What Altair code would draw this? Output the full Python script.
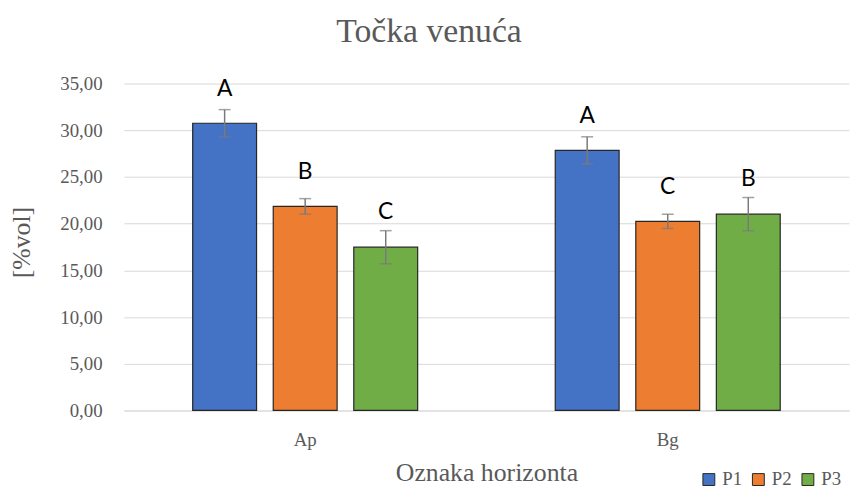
import altair as alt
import pandas as pd

horizons = ["Ap", "Bg"]
series = ["P1", "P2", "P3"]
ap_values = [30.75, 21.85, 17.48]
bg_values = [27.85, 20.25, 21.02]
ap_errors = [1.46, 0.83, 1.77]
bg_errors = [1.45, 0.76, 1.78]
ap_letters = ["A", "B", "C"]
bg_letters = ["A", "C", "B"]
colors = ["#4472C4", "#ED7D31", "#70AD47"]
y_ticks = [0, 5, 10, 15, 20, 25, 30, 35]
chart_title = "Točka venuća"

rows = []
for h, vals, errs, lets in [("Ap", ap_values, ap_errors, ap_letters),
                            ("Bg", bg_values, bg_errors, bg_letters)]:
    for s, v, e, l in zip(series, vals, errs, lets):
        rows.append(dict(horizon=h, series=s, value=v, lo=v - e, hi=v + e, letter=l))
df = pd.DataFrame(rows)

SERIF = "Liberation Serif"
GRAY = "#595959"

x_enc = alt.X("horizon:N", sort=horizons,
              scale=alt.Scale(paddingInner=0, paddingOuter=0),
              axis=alt.Axis(title="Oznaka horizonta", labelAngle=0, ticks=False,
                            domain=True, domainColor="#d9d9d9", domainWidth=1,
                            labelFont=SERIF, labelFontSize=19, labelColor=GRAY,
                            labelPadding=20, titleFont=SERIF, titleFontSize=26,
                            titleFontWeight="normal", titleColor=GRAY,
                            titleY=71, titleBaseline="alphabetic"))
xo_enc = alt.XOffset("series:N", sort=series,
                     scale=alt.Scale(paddingInner=0.207, paddingOuter=0.854))
y_scale = alt.Scale(domain=[0, 35], nice=False)
y_enc = alt.Y("value:Q", scale=y_scale,
              axis=alt.Axis(values=y_ticks,
                            labelExpr="replace(format(datum.value, '.2f'), '.', ',')",
                            title="[%vol]", grid=True, gridColor="#d9d9d9", gridWidth=1,
                            domain=False, ticks=False, labelPadding=22,
                            labelFont=SERIF, labelFontSize=19, labelColor=GRAY,
                            titleFont=SERIF, titleFontSize=26, titleFontWeight="normal",
                            titleColor=GRAY, titleAngle=270, titleX=-103, titleY=160,
                            titleBaseline="middle", titleAlign="center"))

base = alt.Chart(df)

bars = base.mark_bar(stroke="#262626", strokeWidth=1.2).encode(
    x=x_enc, xOffset=xo_enc, y=y_enc,
    color=alt.Color("series:N", sort=series,
                    scale=alt.Scale(domain=series, range=colors),
                    legend=alt.Legend(orient="none", legendX=581, legendY=390,
                                      direction="horizontal", title=None,
                                      symbolType="square", symbolSize=144,
                                      symbolStrokeColor="#262626", symbolStrokeWidth=1,
                                      labelFont=SERIF, labelFontSize=19, labelColor=GRAY,
                                      columnPadding=6, labelOffset=4, padding=0)),
)

err = base.mark_rule(color="#7a7a7a", strokeWidth=1.5).encode(
    x=x_enc, xOffset=xo_enc, y=alt.Y("lo:Q", scale=y_scale), y2="hi:Q")
cap_hi = base.mark_tick(color="#7a7a7a", thickness=1.5, size=12, orient="horizontal").encode(
    x=x_enc, xOffset=xo_enc, y=alt.Y("hi:Q", scale=y_scale))
cap_lo = base.mark_tick(color="#7a7a7a", thickness=1.5, size=12, orient="horizontal").encode(
    x=x_enc, xOffset=xo_enc, y=alt.Y("lo:Q", scale=y_scale))

letters = base.mark_text(font="Lato", fontSize=23, color="#000000",
                         baseline="alphabetic", dy=-28).encode(
    x=x_enc, xOffset=xo_enc, y=alt.Y("value:Q", scale=y_scale), text="letter:N")

title_layer = alt.Chart(pd.DataFrame({"t": [chart_title]})).mark_text(
    font=SERIF, fontSize=34, color=GRAY, baseline="alphabetic", align="center"
).encode(x=alt.value(308), y=alt.value(-42), text="t:N")

chart = alt.layer(bars, err, cap_hi, cap_lo, letters, title_layer).properties(
    width=732, height=330,
    autosize=alt.AutoSizeParams(type="none"),
    padding={"left": 117, "top": 74, "right": 1, "bottom": 77},
).configure_view(strokeWidth=0)

chart.save("out.html", embed_options={"renderer": "svg", "actions": False})
